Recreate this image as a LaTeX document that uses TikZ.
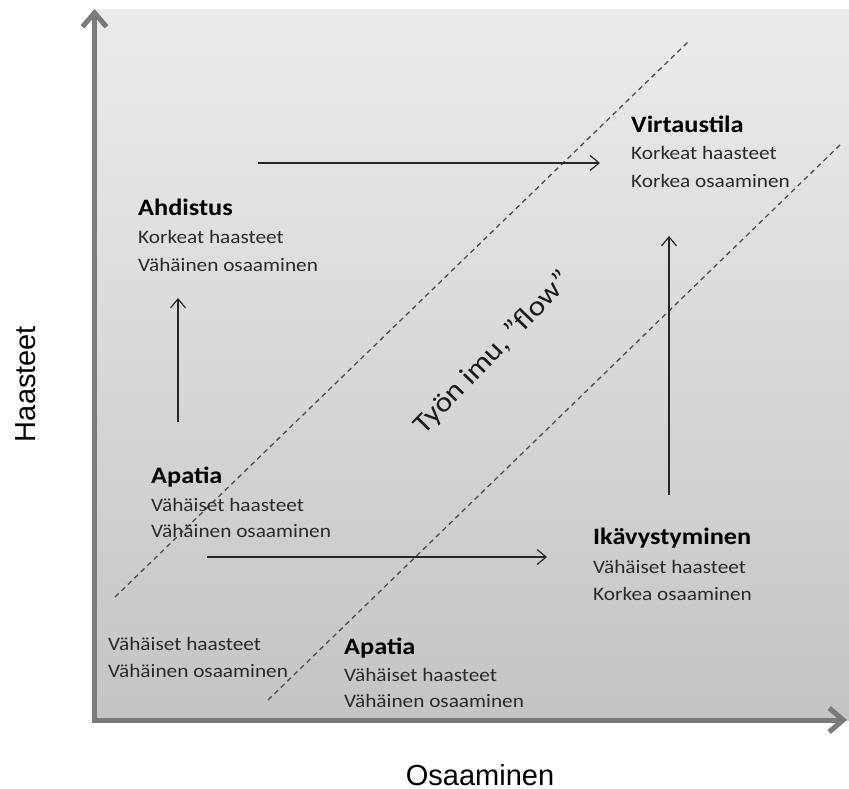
\documentclass[tikz,border=0pt]{standalone}
\usepackage{fontspec}
\setmainfont{Carlito}[FakeStretch=1.12]
\newfontfamily\axisfont{Liberation Sans}
\usetikzlibrary{arrows.meta}
\definecolor{bgtop}{HTML}{ECECEC}
\definecolor{bgbot}{HTML}{C4C4C4}
\definecolor{axisgray}{HTML}{7A7A7A}
\definecolor{txt}{HTML}{2A2A2A}
\tikzset{
 axisline/.style={line width=5pt, draw=axisgray, line join=miter,
   {Straight Barb[length=14pt,width=24pt]}-{Straight Barb[length=14pt,width=24pt]}},
 flowarrow/.style={line width=1.2pt, draw=black!85, -{Straight Barb[length=9pt,width=15pt]}},
 zoneline/.style={line width=1.3pt, draw=black!70, dash pattern=on 5pt off 4pt},
 title/.style={anchor=base west, inner sep=0pt, font=\bfseries\fontsize{23.5}{28}\selectfont, text=black},
 body/.style={anchor=base west, inner sep=0pt, font=\fontsize{19}{23}\selectfont, text=txt},
 axislabel/.style={inner sep=0pt, font=\axisfont\fontsize{29}{34}\selectfont, text=black},
 flowlabel/.style={inner sep=0pt, font=\fontsize{28}{32}\selectfont, text=black!90},
}
\begin{document}
\begin{tikzpicture}[x=1pt,y=-1pt]
\useasboundingbox (0,0) rectangle (849,789);
\shade[top color=bgtop, bottom color=bgbot] (95,10) rectangle (849,720);

% zone boundaries
\coordinate (d1a) at (115,597); \coordinate (d1b) at (689,41);
\coordinate (d2a) at (268,700); \coordinate (d2b) at (842,143);
\draw[zoneline] (d1a) -- (d1b);
\draw[zoneline] (d2a) -- (d2b);

% axes
\coordinate (ytip) at (94.5,9);
\coordinate (o) at (94.5,720);
\coordinate (xtip) at (847,720);
\draw[axisline] (ytip) -- (o) -- (xtip);

% texts
\node[title] (vt) at (631,133) {Virtaustila};
\node[body] (v2) at (631,160) {Korkeat haasteet};
\node[body] (v3) at (631,187) {Korkea osaaminen};
\node[title] (at) at (138,215) {Ahdistus};
\node[body] (a2) at (138,243) {Korkeat haasteet};
\node[body] (a3) at (138,271) {Vähäinen osaaminen};
\node[title] (pt) at (151,483) {Apatia};
\node[body] (p2) at (151,511) {Vähäiset haasteet};
\node[body] (p3) at (151,537) {Vähäinen osaaminen};
\node[title] (it) at (593,544) {Ikävystyminen};
\node[body] (i2) at (593,573) {Vähäiset haasteet};
\node[body] (i3) at (593,600) {Korkea osaaminen};
\node[body] (l1) at (108,650) {Vähäiset haasteet};
\node[body] (l2) at (108,677) {Vähäinen osaaminen};
\node[title] (bt) at (344,654) {Apatia};
\node[body] (b2) at (344,681) {Vähäiset haasteet};
\node[body] (b3) at (344,707) {Vähäinen osaaminen};

\node[flowlabel, rotate=46] (flow) at (493,353) {Työn imu, ”flow”};

% transition arrows
\coordinate (h1s) at (258,163); \coordinate (h1e) at (600,163);
\coordinate (v1s) at (178,422); \coordinate (v1e) at (178,298);
\coordinate (h2s) at (207,557); \coordinate (h2e) at (547,557);
\coordinate (v2s) at (669,495); \coordinate (v2e) at (669,236);
\draw[flowarrow] (h1s) -- (h1e);
\draw[flowarrow] (v1s) -- (v1e);
\draw[flowarrow] (h2s) -- (h2e);
\draw[flowarrow] (v2s) -- (v2e);

% axis labels
\node[axislabel, rotate=90] (ylab) at (26,384) {Haasteet};
\node[axislabel] (xlab) at (480,775) {Osaaminen};
\end{tikzpicture}
\end{document}
